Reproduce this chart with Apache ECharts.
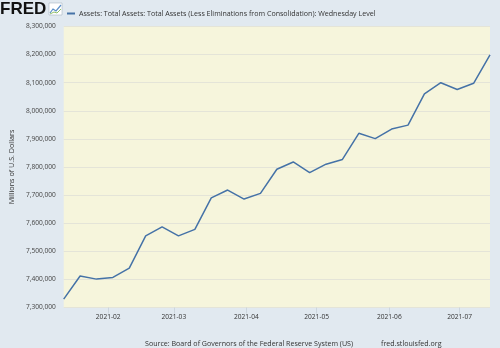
<!DOCTYPE html>
<html><head><meta charset="utf-8">
<script src="https://cdn.jsdelivr.net/npm/echarts@6/dist/echarts.min.js"></script>
<style>html,body{margin:0;padding:0;background:#e1e9f0}#c{width:500px;height:348px}</style>
</head><body><div id="c"></div>
<script>
const dates = ['2021-01-13','2021-01-20','2021-01-27','2021-02-03','2021-02-10','2021-02-17','2021-02-24',
'2021-03-03','2021-03-10','2021-03-17','2021-03-24','2021-03-31','2021-04-07','2021-04-14','2021-04-21','2021-04-28',
'2021-05-05','2021-05-12','2021-05-19','2021-05-26','2021-06-02','2021-06-09','2021-06-16','2021-06-23','2021-06-30',
'2021-07-07','2021-07-14'];
const values = [7330000,7412000,7401000,7407000,7440000,7555000,7587000,
7555000,7578000,7690000,7718000,7686000,7706000,7792000,7818000,7780000,
7810000,7827000,7920000,7901000,7935000,7949000,8060000,8100000,8076000,
8098000,8199000];
const seriesName = 'Assets: Total Assets: Total Assets (Less Eliminations from Consolidation): Wednesday Level';
const yMin = 7300000, yMax = 8300000, yStep = 100000;

const chart = echarts.init(document.getElementById('c'));
const font = 'Open Sans, sans-serif';
chart.setOption({
  backgroundColor: '#e1e9f0',
  animation: false,
  grid: {left: 60, right: 10, top: 26.5, bottom: 40.5, show: true, backgroundColor: '#f6f5dc', borderWidth: 0},
  legend: {
    left: 62, top: 5, itemWidth: 8, itemHeight: 2, icon: 'rect', itemGap: 4,
    textStyle: {fontFamily: font, fontSize: 7.1, color: '#333', padding: [0, 0, 0, -1]},
    data: [seriesName]
  },
  graphic: [
    {type: 'text', left: 0, top: 1, style: {text: 'FRED', fontFamily: 'Liberation Sans, Arial, sans-serif', fontWeight: 'bold', fontSize: 17, fill: '#111'}},
    {type: 'rect', shape: {x: 49, y: 3, width: 13, height: 12}, style: {fill: '#ffffff', stroke: '#9aaabb', lineWidth: 0.5}},
    {type: 'polyline', shape: {points: [[50, 13], [53, 9], [56, 11], [61, 5]]}, style: {stroke: '#5a8ec8', lineWidth: 1.2, fill: null}},
    {type: 'polyline', shape: {points: [[50, 14], [54, 12], [57, 13], [61, 9]]}, style: {stroke: '#8fc06a', lineWidth: 1, fill: null}},
    {type: 'text', left: 145, top: 340, style: {text: 'Source: Board of Governors of the Federal Reserve System (US)', fontFamily: font, fontSize: 7.1, fill: '#333'}},
    {type: 'text', left: 381, top: 340, style: {text: 'fred.stlouisfed.org', fontFamily: font, fontSize: 7.1, fill: '#333'}}
  ],
  xAxis: {
    type: 'time',
    min: '2021-01-13', max: '2021-07-14',
    minInterval: 28 * 86400000, maxInterval: 31 * 86400000,
    axisLine: {show: false},
    axisTick: {show: true, length: 6, lineStyle: {color: '#cdd6de'}},
    splitLine: {show: false},
    axisLabel: {
      fontFamily: font, fontSize: 6.6, color: '#333', margin: 6,
      showMinLabel: false, showMaxLabel: false,
      formatter: function (v) { const d = new Date(v); return d.getFullYear() + '-' + String(d.getMonth() + 1).padStart(2, '0'); }
    }
  },
  yAxis: {
    type: 'value', min: yMin, max: yMax, interval: yStep,
    name: 'Millions of U.S. Dollars', nameLocation: 'middle', nameGap: 45,
    nameTextStyle: {fontFamily: font, fontSize: 7.2, color: '#333'},
    axisLine: {show: false}, axisTick: {show: false},
    splitLine: {lineStyle: {color: '#e4e4d8', width: 1}},
    axisLabel: {fontFamily: font, fontSize: 6.6, color: '#444', margin: 8,
      formatter: v => v.toLocaleString('en-US')}
  },
  series: [{
    name: seriesName, type: 'line', showSymbol: false,
    lineStyle: {color: '#4572a7', width: 1.5}, itemStyle: {color: '#4572a7'},
    data: dates.map((d, i) => [d, values[i]])
  }]
});
</script></body></html>
